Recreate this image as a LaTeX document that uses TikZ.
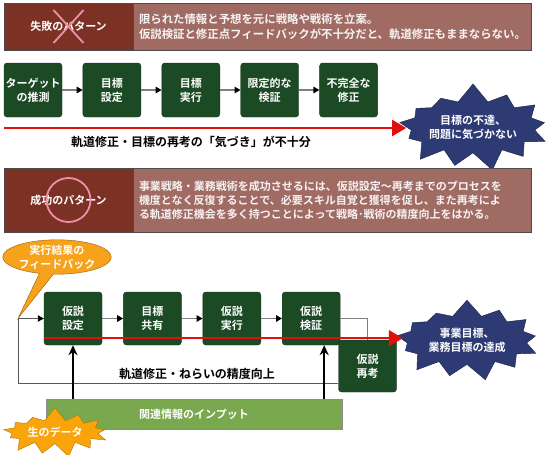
\documentclass[tikz,border=0pt]{standalone}
\usepackage{fontspec}
\setmainfont{Noto Sans CJK JP}[BoldFont={Noto Sans CJK JP Bold}]
\usepackage{tikz}
\usetikzlibrary{arrows.meta, positioning, shapes.symbols, shapes.callouts}
\definecolor{bannerdark}{HTML}{7B3124}
\definecolor{bannerlight}{HTML}{A06B63}
\definecolor{boxgreen}{HTML}{1B4A25}
\definecolor{starnavy}{HTML}{2D3A73}
\definecolor{starorange}{HTML}{F9A40A}
\definecolor{bubbleorange}{HTML}{F6A21B}
\definecolor{inputgreen}{HTML}{7AA84F}
\definecolor{flowred}{HTML}{E2100D}
\definecolor{markpink}{HTML}{F08FA8}
\definecolor{flowgray}{HTML}{7F7F7F}

\begin{document}
\begin{tikzpicture}[x=1pt, y=-1pt,
    every node/.style={font=\fontsize{11}{14}\selectfont\bfseries},
    bannerhead/.style={rectangle, draw=black!70, fill=bannerdark, text=white, minimum width=129pt, minimum height=47pt, inner sep=0pt},
    bannerbody/.style={rectangle, draw=black!70, fill=bannerlight, text=white!92!bannerlight, minimum width=398pt, minimum height=47pt, inner sep=0pt, text width=386pt, align=left, font=\fontsize{11.4}{15.5}\selectfont\bfseries},
    stepbox/.style={rectangle, rounded corners=3pt, draw=boxgreen!70!black, fill=boxgreen, text=white, minimum width=58pt, minimum height=54pt, inner sep=0pt, align=center},
    burst/.style={starburst, starburst points=13, starburst point height=19pt, random starburst=7, fill=starnavy, draw=starnavy!60!black, text=white, inner sep=0pt, align=center},
    bubble/.style={ellipse callout, fill=bubbleorange, draw=bubbleorange!60!black, text=white, minimum width=108pt, minimum height=34pt, inner sep=0pt, align=center},
    inputbar/.style={rectangle, draw=black!45, fill=inputgreen, text=white, minimum width=296pt, minimum height=30pt, inner sep=0pt},
    note/.style={text=black, font=\fontsize{12}{14}\selectfont\bfseries},
    crossmark/.style={draw=markpink, line width=1.8pt},
    flow/.style={draw=flowgray, line width=1.3pt, -{Triangle[black, length=6pt, width=6.5pt]}},
    redflow/.style={draw=flowred, line width=2.2pt, -{Triangle[length=14pt, width=16pt]}},
    feedline/.style={draw=black!65, line width=0.9pt},
    upflow/.style={draw=black, line width=2pt, -{Stealth[length=10pt, width=9pt]}}
]
\useasboundingbox (0,0) rectangle (550,455);

% failure pattern
\node[bannerhead] (failhead) at (68.5,26.5) {失敗のパターン};
\node[bannerbody] (failbody) at (332,26.5) {限られた情報と予想を元に戦略や戦術を立案。\\仮説検証と修正点フィードバックが不十分だと、軌道修正もままならない。};
\draw[crossmark] ([shift={(-15,-16.5)}]failhead.center) -- ([shift={(15,16.5)}]failhead.center);
\draw[crossmark] ([shift={(15,-16.5)}]failhead.center) -- ([shift={(-15,16.5)}]failhead.center);

\node[stepbox] (guess) at (33,90) {ターゲット\\の推測};
\node[stepbox, right=20.5pt of guess] (aimset) {目標\\設定};
\node[stepbox, right=20.5pt of aimset] (aimrun) {目標\\実行};
\node[stepbox, right=20.5pt of aimrun] (partcheck) {限定的な\\検証};
\node[stepbox, right=20.5pt of partcheck] (partfix) {不完全な\\修正};

\draw[flow] (guess) -- (aimset);
\draw[flow] (aimset) -- (aimrun);
\draw[flow] (aimrun) -- (partcheck);
\draw[flow] (partcheck) -- (partfix);

\node[burst, inner ysep=6pt] (nogoal) at (473,127) {目標の不達、\\問題に気づかない};
\coordinate (failstart) at (4,128);
\draw[redflow] (failstart) -- (failstart -| nogoal.west);
\node[note] (failnote) at (191,142) {軌道修正・目標の再考の「気づき」が不十分};

% success pattern
\node[bannerhead, minimum height=64pt] (winhead) at (68.5,200) {成功のパターン};
\node[bannerbody, minimum height=64pt, font=\fontsize{11}{14}\selectfont\bfseries] (winbody) at (332,200) {事業戦略・業務戦術を成功させるには、仮説設定〜再考までのプロセスを\\機度となく反復することで、必要スキル自覚と獲得を促し、また再考によ\\る軌道修正機会を多く持つことによって戦略･戦術の精度向上をはかる。};
\draw[crossmark] (winhead.center) circle (22);

\node[stepbox, minimum height=53pt] (hyposet) at (73,318.5) {仮説\\設定};
\node[stepbox, minimum height=53pt, right=21pt of hyposet] (aimshare) {目標\\共有};
\node[stepbox, minimum height=53pt, right=21pt of aimshare] (hyporun) {仮説\\実行};
\node[stepbox, minimum height=53pt, right=21pt of hyporun] (hypocheck) {仮説\\検証};
\node[stepbox, minimum height=52pt] (hyporethink) at (367.5,366) {仮説\\再考};

\draw[flow] (hyposet) -- (aimshare);
\draw[flow] (aimshare) -- (hyporun);
\draw[flow] (hyporun) -- (hypocheck);
\draw[draw=flowgray, line width=1.3pt] (hypocheck.east) -| (hyporethink.north);

% feedback loop
\coordinate (loopbottom) at (18,383);
\coordinate (loopturn) at (18,318.5);
\draw[feedline] ([yshift=-17pt]hyporethink.west) -- (loopbottom) -- (loopturn);
\draw[flow, draw=black!65, line width=0.9pt] (loopturn) -- (hyposet);
\node[note] (loopnote) at (197,374) {軌道修正・ねらいの精度向上};
\node[bubble, callout absolute pointer={(loopturn)}] (feedback) at (57,257) {実行結果の\\フィードバック};

\node[burst, inner xsep=4pt, inner ysep=5pt, starburst point height=17pt] (achieve) at (467,340) {事業目標、\\業務目標の達成};
\draw[redflow] ([yshift=7pt]hyposet.south west) -- ([yshift=7pt]hyposet.south west -| achieve.west);

% inputs
\node[inputbar] (input) at (194,414) {関連情報のインプット};
\draw[upflow] (input.north -| hyposet) -- (hyposet.south);
\draw[upflow] ([xshift=13pt]input.north -| hypocheck) -- ([xshift=13pt]hypocheck.south);
\node[burst, fill=starorange, draw=starorange!70!black, inner xsep=3pt, inner ysep=3pt, starburst point height=14pt] (rawdata) at (55,432) {生のデータ};

\end{tikzpicture}
\end{document}
